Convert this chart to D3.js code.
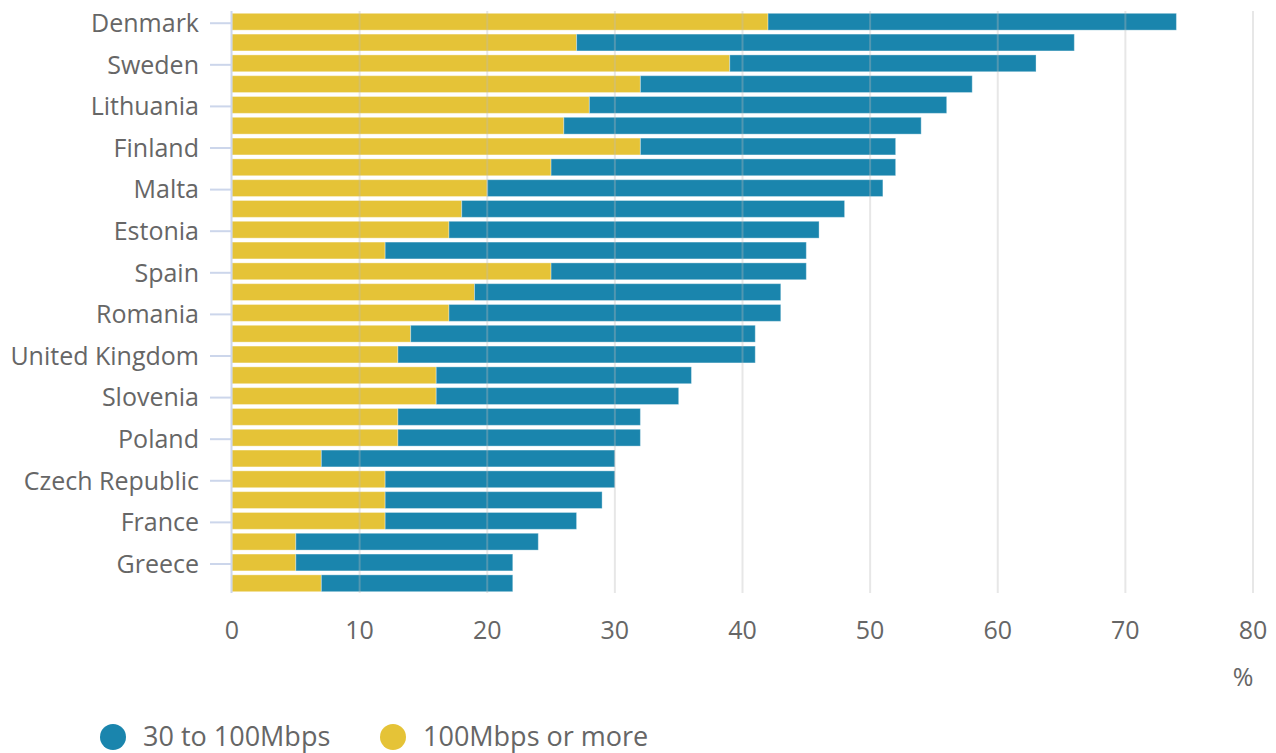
<!DOCTYPE html>
<html>
<head>
<meta charset="utf-8">
<script src="https://cdn.jsdelivr.net/npm/d3@7"></script>
<style>
  body { margin: 0; background: #fff; }
  text { font-family: "Open Sans", sans-serif; fill: #666; }
</style>
</head>
<body>
<script>
var width = 1276;
var height = 753;

// countries in chart order; only every other one gets a visible label
var countries = ["Denmark", "Netherlands", "Sweden", "Belgium", "Lithuania", "Portugal",
    "Finland", "Hungary", "Malta", "Latvia", "Estonia", "Luxembourg", "Spain", "Ireland",
    "Romania", "Germany", "United Kingdom", "Slovakia", "Slovenia", "Austria", "Poland",
    "Bulgaria", "Czech Republic", "Italy", "France", "Croatia", "Greece", "Cyprus"];
var fast100 = [42, 27, 39, 32, 28, 26, 32, 25, 20, 18, 17, 12, 25, 19,
    17, 14, 13, 16, 16, 13, 13, 7, 12, 12, 12, 5, 5, 7];
var mid30to100 = [32, 39, 24, 26, 28, 28, 20, 27, 31, 30, 29, 33, 20, 24,
    26, 27, 28, 20, 19, 19, 19, 23, 18, 17, 15, 19, 17, 15];
var xTicks = [0, 10, 20, 30, 40, 50, 60, 70, 80];
var seriesNames = ["30 to 100Mbps", "100Mbps or more"];
var seriesColors = ["#1a85ad", "#e5c337"];

var svg = d3.select("body").append("svg").attr("width", width).attr("height", height);

var x = d3.scaleLinear().domain([0, 80]).range([232, 1253]);
var y = d3.scaleBand().domain(countries).range([13.3, 591.7]).paddingInner(0.19).paddingOuter(0);

// bars
var rows = svg.append("g").selectAll("g")
    .data(countries)
    .enter().append("g");

rows.append("rect")
    .attr("x", x(0))
    .attr("y", function (d) { return y(d); })
    .attr("height", y.bandwidth())
    .attr("width", function (d, i) { return x(fast100[i]) - x(0); })
    .attr("fill", seriesColors[1])
    .attr("stroke", "rgba(255,255,255,0.35)");

rows.append("rect")
    .attr("x", function (d, i) { return x(fast100[i]); })
    .attr("y", function (d) { return y(d); })
    .attr("height", y.bandwidth())
    .attr("width", function (d, i) { return x(fast100[i] + mid30to100[i]) - x(fast100[i]); })
    .attr("fill", seriesColors[0])
    .attr("stroke", "rgba(255,255,255,0.35)");

// gridlines drawn over the bars
svg.append("g").selectAll("line")
    .data(xTicks.slice(1))
    .enter().append("line")
    .attr("x1", function (d) { return x(d); })
    .attr("x2", function (d) { return x(d); })
    .attr("y1", 11)
    .attr("y2", 593)
    .attr("stroke", "#bbb")
    .attr("stroke-opacity", 0.35)
    .attr("stroke-width", 2);

// x axis labels
svg.append("g").selectAll("text")
    .data(xTicks)
    .enter().append("text")
    .attr("x", function (d) { return x(d); })
    .attr("y", 639)
    .attr("text-anchor", "middle")
    .style("font-size", "25px")
    .text(function (d) { return d; });

svg.append("text")
    .attr("x", 1243)
    .attr("y", 686)
    .attr("text-anchor", "middle")
    .style("font-size", "25px")
    .text("%");

// y axis line and ticks
svg.append("line")
    .attr("x1", 231.5).attr("x2", 231.5)
    .attr("y1", 11).attr("y2", 593)
    .attr("stroke", "#ccd6eb")
    .attr("stroke-width", 2);

var labelled = countries.filter(function (d, i) { return i % 2 === 0; });

svg.append("g").selectAll("line")
    .data(labelled)
    .enter().append("line")
    .attr("x1", 210).attr("x2", 231)
    .attr("y1", function (d) { return y(d) + y.bandwidth() / 2 + 1.5; })
    .attr("y2", function (d) { return y(d) + y.bandwidth() / 2 + 1.5; })
    .attr("stroke", "#ccd6eb")
    .attr("stroke-width", 2);

svg.append("g").selectAll("text")
    .data(labelled)
    .enter().append("text")
    .attr("x", 199)
    .attr("y", function (d) { return y(d) + y.bandwidth() / 2 + 1.5; })
    .attr("dy", "0.35em")
    .attr("text-anchor", "end")
    .style("font-size", "25px")
    .text(function (d) { return d; });

// legend
var legendX = [113, 393];
var legend = svg.append("g").selectAll("g")
    .data(seriesNames)
    .enter().append("g")
    .attr("transform", function (d, i) { return "translate(" + legendX[i] + ",737)"; });

legend.append("circle")
    .attr("r", 13)
    .attr("fill", function (d, i) { return seriesColors[i]; });

legend.append("text")
    .attr("x", 30)
    .attr("dy", "0.35em")
    .style("font-size", "27px")
    .text(function (d) { return d; });
</script>
</body>
</html>
